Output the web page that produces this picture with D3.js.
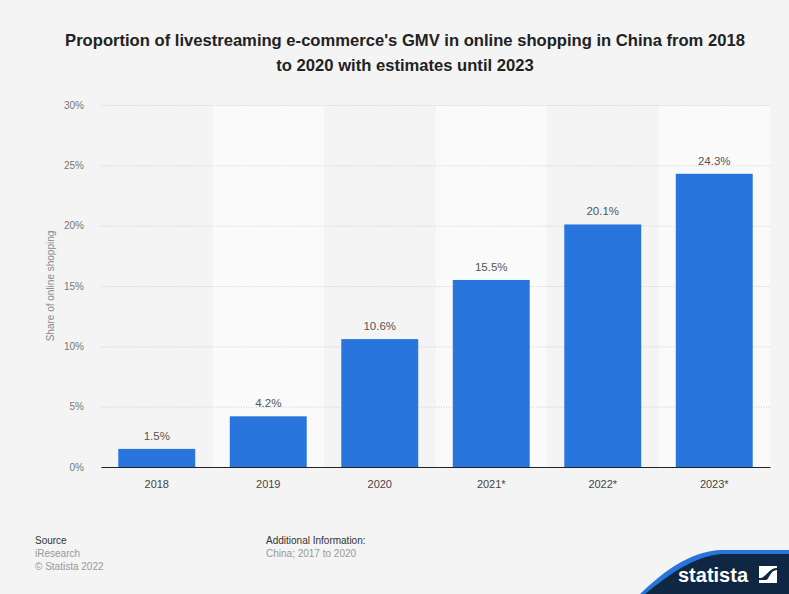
<!DOCTYPE html>
<html>
<head>
<meta charset="utf-8">
<script src="https://cdn.jsdelivr.net/npm/d3@7"></script>
<style>
  html, body { margin: 0; padding: 0; background: #f4f4f4; }
  svg { display: block; font-family: "Liberation Sans", Arial, Helvetica, sans-serif; }
</style>
</head>
<body>
<svg id="chart" width="789" height="594"></svg>
<script>
// Livestreaming e-commerce share of online shopping GMV, China
const years = ["2018", "2019", "2020", "2021*", "2022*", "2023*"];
const shares = [1.5, 4.2, 10.6, 15.5, 20.1, 24.3];
const yTicks = [0, 5, 10, 15, 20, 25, 30];

const titleLines = [
  "Proportion of livestreaming e-commerce's GMV in online shopping in China from 2018",
  "to 2020 with estimates until 2023"
];

const svg = d3.select("#chart");
const W = 789, H = 594;
const margin = { left: 101, right: 19, top: 105, bottom: 127 };
const plotW = W - margin.left - margin.right;
const plotH = H - margin.top - margin.bottom;

svg.append("rect").attr("width", W).attr("height", H).attr("fill", "#f4f4f4");

// Title
const title = svg.append("text")
  .attr("x", 405).attr("y", 46)
  .attr("text-anchor", "middle")
  .attr("font-weight", "bold")
  .attr("font-size", 16.6)
  .attr("fill", "#222");
titleLines.forEach((t, i) => {
  title.append("tspan").attr("x", 405).attr("dy", i === 0 ? 0 : 25).text(t);
});

const g = svg.append("g").attr("transform", `translate(${margin.left},${margin.top})`);

const x = d3.scaleBand().domain(years).range([0, plotW]).paddingInner(0.31).paddingOuter(0.155);
const bandX = d3.scaleBand().domain(years).range([0, plotW]).padding(0);
const y = d3.scaleLinear().domain([0, 30]).range([plotH, 0]);

// Alternating column shading
g.selectAll("rect.band")
  .data(years.filter((d, i) => i % 2 === 1))
  .join("rect")
  .attr("class", "band")
  .attr("x", d => bandX(d))
  .attr("y", 0)
  .attr("width", bandX.bandwidth())
  .attr("height", plotH)
  .attr("fill", "#fafafa");

// Gridlines and y labels
const yAxis = d3.axisLeft(y).tickValues(yTicks).tickFormat(d => d + "%").tickSize(-plotW).tickPadding(17);
const ya = g.append("g").call(yAxis);
ya.select(".domain").remove();
ya.selectAll(".tick line")
  .attr("stroke", "#cfcfcf")
  .attr("stroke-dasharray", "1,1.5")
  .attr("stroke-width", 1);
ya.selectAll(".tick text")
  .attr("fill", "#777")
  .attr("font-size", 10)
  .attr("font-family", "'Liberation Sans', Arial, sans-serif");

// Bars
g.selectAll("rect.bar")
  .data(years.map((c, i) => ({ c, v: shares[i] })))
  .join("rect")
  .attr("class", "bar")
  .attr("x", d => x(d.c))
  .attr("y", d => y(d.v))
  .attr("width", x.bandwidth())
  .attr("height", d => plotH - y(d.v))
  .attr("fill", "#2876dd");

// Value labels
g.selectAll("text.val")
  .data(years.map((c, i) => ({ c, v: shares[i] })))
  .join("text")
  .attr("class", "val")
  .attr("x", d => x(d.c) + x.bandwidth() / 2)
  .attr("y", d => y(d.v) - 9)
  .attr("text-anchor", "middle")
  .attr("font-size", 11.5)
  .attr("fill", "#555")
  .text(d => d.v.toFixed(1) + "%");

// Baseline and x labels
const xAxis = d3.axisBottom(bandX).tickSize(0).tickPadding(13);
const xa = g.append("g").attr("transform", `translate(0,${plotH})`).call(xAxis);
xa.select(".domain").attr("stroke", "#222").attr("stroke-width", 1.2);
xa.selectAll(".tick text")
  .attr("fill", "#444")
  .attr("font-size", 11)
  .attr("font-family", "'Liberation Sans', Arial, sans-serif");

// Y axis title
svg.append("text")
  .attr("transform", `translate(54,${margin.top + plotH / 2}) rotate(-90)`)
  .attr("text-anchor", "middle")
  .attr("font-size", 10)
  .attr("fill", "#888")
  .text("Share of online shopping");

// Footer
const foot = svg.append("g").attr("font-size", 10);
foot.append("text").attr("x", 35).attr("y", 544).attr("fill", "#333").text("Source");
foot.append("text").attr("x", 35).attr("y", 557).attr("fill", "#999").text("iResearch");
foot.append("text").attr("x", 35).attr("y", 570).attr("fill", "#999").text("© Statista 2022");
foot.append("text").attr("x", 266).attr("y", 544).attr("fill", "#333").text("Additional Information:");
foot.append("text").attr("x", 266).attr("y", 557).attr("fill", "#999").text("China; 2017 to 2020");

// Brand badge, bottom right
const logo = svg.append("g");
logo.append("path")
  .attr("d", "M640,594 C665,570 690,552 720,550 L789,550 L789,594 Z")
  .attr("fill", "#2876dd");
logo.append("path")
  .attr("d", "M645,594 C670,574 694,556 722,554 L789,554 L789,594 Z")
  .attr("fill", "#0f2743");
logo.append("text")
  .attr("x", 678).attr("y", 582)
  .attr("font-size", 20)
  .attr("font-weight", "bold")
  .attr("fill", "#fff")
  .text("statista");
logo.append("rect").attr("x", 759).attr("y", 566).attr("width", 18).attr("height", 17).attr("fill", "#fff");
logo.append("path")
  .attr("d", "M759,580 L766,580 C769,580 770,570 777,570 L777,568 C768,568 767,578 759,578 Z")
  .attr("fill", "#0f2743");
</script>
</body>
</html>
